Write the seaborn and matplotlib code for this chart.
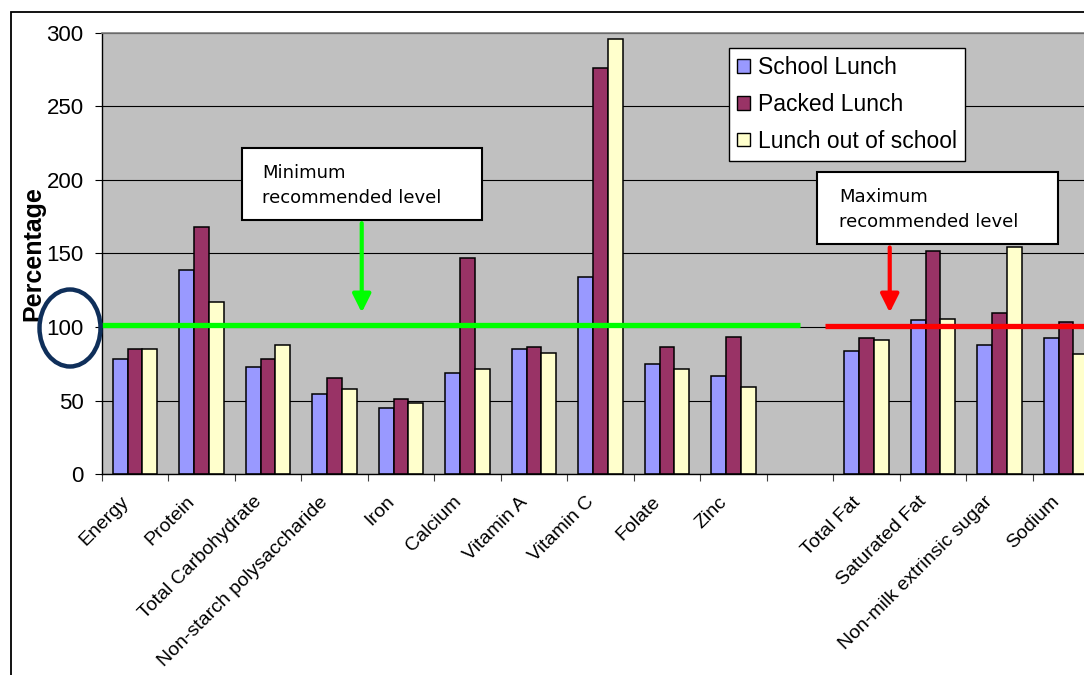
import numpy as np
import pandas as pd
import matplotlib
matplotlib.use("Agg")
import matplotlib.pyplot as plt
from matplotlib.patches import Rectangle, Ellipse
from matplotlib.transforms import ScaledTranslation
import seaborn as sns

# ---- data -------------------------------------------------------------
nutrients = ["Energy", "Protein", "Total Carbohydrate", "Non-starch polysaccharide",
             "Iron", "Calcium", "Vitamin A", "Vitamin C", "Folate", "Zinc", "",
             "Total Fat", "Saturated Fat", "Non-milk extrinsic sugar", "Sodium"]
series_names = ["School Lunch", "Packed Lunch", "Lunch out of school"]
school_lunch = [78, 138.5, 73, 54.6, 45, 69, 85, 133.7, 75, 67, np.nan, 84, 105, 87.5, 92.5]
packed_lunch = [85, 168, 78, 65.7, 51, 147, 86.4, 276, 86.4, 93.6, np.nan, 92.5, 152, 109.5, 103.6]
lunch_out = [85, 117, 87.5, 58.2, 48.5, 71.6, 82.7, 296, 71.6, 59.4, np.nan, 91.2, 105.6, 154.4, 81.4]
y_ticks = [0, 50, 100, 150, 200, 250, 300]
min_level = 101.5
max_level = 100.7

colors = ["#9999FF", "#993366", "#FFFFCC"]

df = pd.DataFrame({
    "nutrient": nutrients * 3,
    "group": np.repeat(series_names, len(nutrients)),
    "value": school_lunch + packed_lunch + lunch_out,
}).dropna()

W, H = 1084, 675
fig = plt.figure(figsize=(W / 100, H / 100), dpi=100)
fig.patch.set_facecolor("white")


def px(x, y):
    """pixel position (top-left origin) -> figure fraction"""
    return x / W, 1 - y / H


# plot area runs past the right edge of the page
left, top, bottom, right = 101.7, 32.7, 474.3, 101.7 + 15 * 66.5
ax = fig.add_axes([left / W, 1 - bottom / H, (right - left) / W, (bottom - top) / H])
ax.set_facecolor("#C0C0C0")

sns.barplot(data=df, x="nutrient", y="value", hue="group", order=nutrients,
            hue_order=series_names, palette=colors, width=0.667, ax=ax,
            edgecolor="black", linewidth=1.1, saturation=1, legend=False, errorbar=None)

ax.set_xlim(-0.5, len(nutrients) - 0.5)
ax.set_ylim(0, 300)
ax.set_yticks(y_ticks)
ax.set_yticklabels([str(v) for v in y_ticks], fontsize=16, family="Liberation Sans")
ax.yaxis.grid(True, color="black", linewidth=0.8)
ax.set_axisbelow(True)
ax.tick_params(axis="y", length=5, width=0.8, pad=8, colors="black")

# category labels at centres, tick marks at boundaries
ax.set_xticks(range(len(nutrients)))
ax.set_xticklabels(nutrients, rotation=45, ha="right", va="center",
                   rotation_mode="anchor", fontsize=14, family="Liberation Sans")
ax.tick_params(axis="x", which="major", length=0, pad=18)
shift = ScaledTranslation(-9 / 100, 0, fig.dpi_scale_trans)
for lab in ax.get_xticklabels():
    lab.set_transform(lab.get_transform() + shift)
ax.set_xticks(np.arange(-0.5, len(nutrients)), minor=True)
ax.tick_params(axis="x", which="minor", length=5, width=0.8, color="#404040")
ax.set_xlabel("")
ax.set_ylabel("Percentage", fontsize=18, fontweight="bold", family="Liberation Sans",
              labelpad=0.5)

for s in ["left", "bottom"]:
    ax.spines[s].set_color("black")
    ax.spines[s].set_linewidth(1)
ax.spines["top"].set_color("#808080")
ax.spines["top"].set_linewidth(1.2)
ax.spines["right"].set_visible(False)

# recommended level lines
ax.plot([-0.5, 10.0], [min_level, min_level], color="#00FF00", lw=3.8, solid_capstyle="butt", zorder=5)
ax.plot([10.37, 14.5], [max_level, max_level], color="#FF0000", lw=3.8, solid_capstyle="butt", zorder=5)

# arrows from the text boxes down to the lines
ax.annotate("", xy=(3.41, 108), xytext=(3.41, 172.5),
            arrowprops=dict(arrowstyle="-|>,head_length=1.1,head_width=0.55",
                            color="#00FF00", lw=3), zorder=6)
ax.annotate("", xy=(11.35, 108), xytext=(11.35, 156),
            arrowprops=dict(arrowstyle="-|>,head_length=1.1,head_width=0.55",
                            color="#FF0000", lw=3), zorder=6)


def text_box(x0, y0, x1, y1, lines, tx, ty):
    fx, fy = px(x0, y1)
    fig.add_artist(Rectangle((fx, fy), (x1 - x0) / W, (y1 - y0) / H,
                             transform=fig.transFigure, facecolor="white",
                             edgecolor="black", lw=1.5, zorder=10))
    for i, t in enumerate(lines):
        a, b = px(tx, ty + i * 25)
        fig.text(a, b, t, fontsize=13, family="DejaVu Sans", va="center",
                 ha="left", zorder=11)


text_box(242, 148, 482, 220, ["Minimum", "recommended level"], 262, 173)
text_box(817, 172, 1058, 244, ["Maximum", "recommended level"], 839, 197)

# legend
handles = [Rectangle((0, 0), 1, 1, facecolor=c, edgecolor="black", lw=1) for c in colors]
lx, ly = px(729, 48)
leg = fig.legend(handles, series_names, loc="upper left", bbox_to_anchor=(lx, ly),
                 bbox_transform=fig.transFigure, frameon=True, fancybox=False,
                 framealpha=1, facecolor="white",
                 prop=dict(family="Liberation Sans", size=16.5), handlelength=0.55,
                 handleheight=0.55, handletextpad=0.35, labelspacing=0.6,
                 borderpad=0.35, borderaxespad=0)
leg.get_frame().set_edgecolor("black")
leg.get_frame().set_linewidth(1)
leg.set_zorder(12)

# ellipse round the 100 label
ex, ey = px(70, 328)
fig.add_artist(Ellipse((ex, ey), 61 / W, 77 / H, transform=fig.transFigure,
                       fill=False, edgecolor="#0F2F5A", lw=3.2, zorder=12))

# outer chart frame
fx, fy = px(11, 12)
fig.add_artist(Rectangle((fx, -0.2), 1.2, fy + 0.2, transform=fig.transFigure,
                         fill=False, edgecolor="black", lw=1.3, zorder=1))

fig.savefig("out.png", dpi=100)
